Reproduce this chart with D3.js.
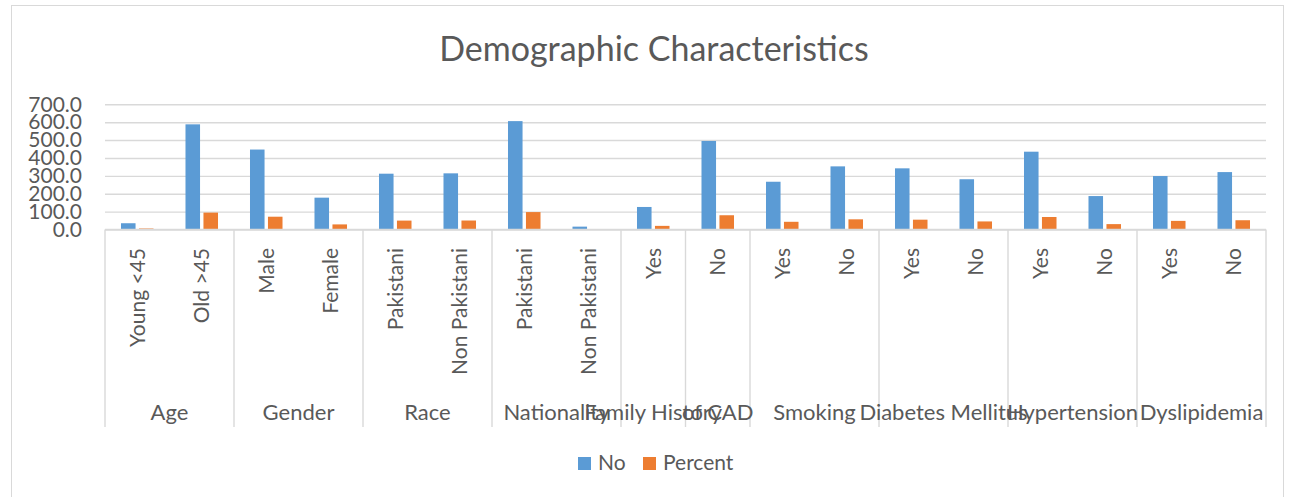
<!DOCTYPE html>
<html>
<head>
<meta charset="utf-8">
<script src="https://cdn.jsdelivr.net/npm/d3@7"></script>
<style>
    body { margin: 0; background: #fff; }
    svg text { font-family: Lato, "Open Sans", sans-serif; fill: #595959; }
</style>
</head>
<body>
<svg id="chart" width="1293" height="497"></svg>
<script>
"use strict";



//
// Data
//

var groupNames = ["Age", "Gender", "Race", "Nationality", "Family History", "of CAD",
    "Smoking", "Diabetes Mellitus", "Hypertension", "Dyslipidemia"];
var groupSizes = [2, 2, 2, 2, 1, 1, 2, 2, 2, 2];

var categories = ["Young <45", "Old >45", "Male", "Female", "Pakistani", "Non Pakistani",
    "Pakistani", "Non Pakistani", "Yes", "No", "Yes", "No", "Yes", "No", "Yes", "No", "Yes", "No"];

var noValues = [35, 588, 447, 178, 312, 314, 606, 16, 126, 495, 267, 353, 342, 281, 435, 187, 299, 321];
var percentValues = [5.6, 94.4, 71.5, 28.5, 49.8, 50.2, 97.4, 2.6, 20.3, 79.7, 43.1, 56.9, 54.9, 45.1, 69.9, 30.1, 48.2, 51.8];

var seriesNames = ["No", "Percent"];
var seriesColors = ["#5B9BD5", "#ED7D31"];

var yTicks = [0, 100, 200, 300, 400, 500, 600, 700];



//
// Chart setup
//

var svg = d3.select("#chart");

var plot = { left: 105, right: 1266, top: 104.3, bottom: 229.5, labelBottom: 427 };

var x = d3.scaleBand()
    .domain(d3.range(categories.length))
    .range([plot.left, plot.right]);

var xSeries = d3.scaleBand()
    .domain(seriesNames)
    .range([0, x.bandwidth()])
    .paddingInner(0.19)
    .paddingOuter(0.89);

var y = d3.scaleLinear()
    .domain([0, 700])
    .range([plot.bottom, plot.top]);

// chart border
svg.append("rect")
    .attr("x", 11.5).attr("y", 5.5)
    .attr("width", 1272).attr("height", 520)
    .style("fill", "none")
    .style("stroke", "#D9D9D9")
    .style("stroke-width", 1);

// title
svg.append("text")
    .attr("x", 654).attr("y", 61)
    .attr("text-anchor", "middle")
    .style("font-size", "34px")
    .text("Demographic Characteristics");



//
// Gridlines and y labels
//

var yAxis = d3.axisLeft(y)
    .tickValues(yTicks)
    .tickSize(-(plot.right - plot.left))
    .tickPadding(23)
    .tickFormat(d3.format(".1f"));

var yAxisG = svg.append("g")
    .attr("transform", "translate(" + plot.left + ",0)")
    .call(yAxis);

yAxisG.select(".domain").remove();
yAxisG.selectAll("line")
    .style("stroke", "#D9D9D9")
    .style("stroke-width", 1.4);
yAxisG.selectAll("text")
    .style("font-family", "Lato, sans-serif")
    .style("font-size", "21px")
    .style("fill", "#595959");



//
// Bars
//

var rows = categories.map(function (c, i) {
    return { idx: i, values: [noValues[i], percentValues[i]] };
});

var catG = svg.selectAll(".cat")
    .data(rows)
    .enter().append("g")
    .attr("class", "cat")
    .attr("transform", function (d) { return "translate(" + x(d.idx) + ",0)"; });

catG.selectAll("rect")
    .data(function (d) { return d.values.map(function (v, k) { return { series: seriesNames[k], value: v, k: k }; }); })
    .enter().append("rect")
    .attr("x", function (d) { return xSeries(d.series); })
    .attr("y", function (d) { return y(d.value); })
    .attr("width", xSeries.bandwidth())
    .attr("height", function (d) { return y(0) - y(d.value); })
    .style("fill", function (d) { return seriesColors[d.k]; });



//
// Category axis
//

svg.append("line")
    .attr("x1", plot.left).attr("x2", plot.right)
    .attr("y1", plot.bottom).attr("y2", plot.bottom)
    .style("stroke", "#D9D9D9")
    .style("stroke-width", 1.4);

svg.selectAll(".catLabel")
    .data(categories)
    .enter().append("text")
    .attr("class", "catLabel")
    .attr("transform", function (d, i) {
        return "translate(" + (x(i) + x.bandwidth() / 2) + ",248) rotate(-90)";
    })
    .attr("dy", "0.36em")
    .attr("text-anchor", "end")
    .style("font-size", "21px")
    .text(function (d) { return d; });

// group boundaries
var starts = [0];
groupSizes.forEach(function (s, i) { starts.push(starts[i] + s); });

svg.selectAll(".divider")
    .data(starts)
    .enter().append("line")
    .attr("class", "divider")
    .attr("x1", function (d) { return d < categories.length ? x(d) : plot.right; })
    .attr("x2", function (d) { return d < categories.length ? x(d) : plot.right; })
    .attr("y1", plot.bottom)
    .attr("y2", plot.labelBottom)
    .style("stroke", "#D9D9D9")
    .style("stroke-width", 1.4);

svg.selectAll(".groupLabel")
    .data(groupNames)
    .enter().append("text")
    .attr("class", "groupLabel")
    .attr("x", function (d, i) {
        var a = x(starts[i]);
        var b = starts[i + 1] < categories.length ? x(starts[i + 1]) : plot.right;
        return (a + b) / 2;
    })
    .attr("y", 420)
    .attr("text-anchor", "middle")
    .style("font-size", "22px")
    .text(function (d) { return d; });



//
// Legend
//

var legend = svg.append("g").attr("transform", "translate(578,457)");
var legendX = [0, 65];

seriesNames.forEach(function (name, i) {
    legend.append("rect")
        .attr("x", legendX[i]).attr("y", 0)
        .attr("width", 13).attr("height", 13)
        .style("fill", seriesColors[i]);
    legend.append("text")
        .attr("x", legendX[i] + 20).attr("y", 13)
        .style("font-size", "21px")
        .text(name);
});
</script>
</body>
</html>
